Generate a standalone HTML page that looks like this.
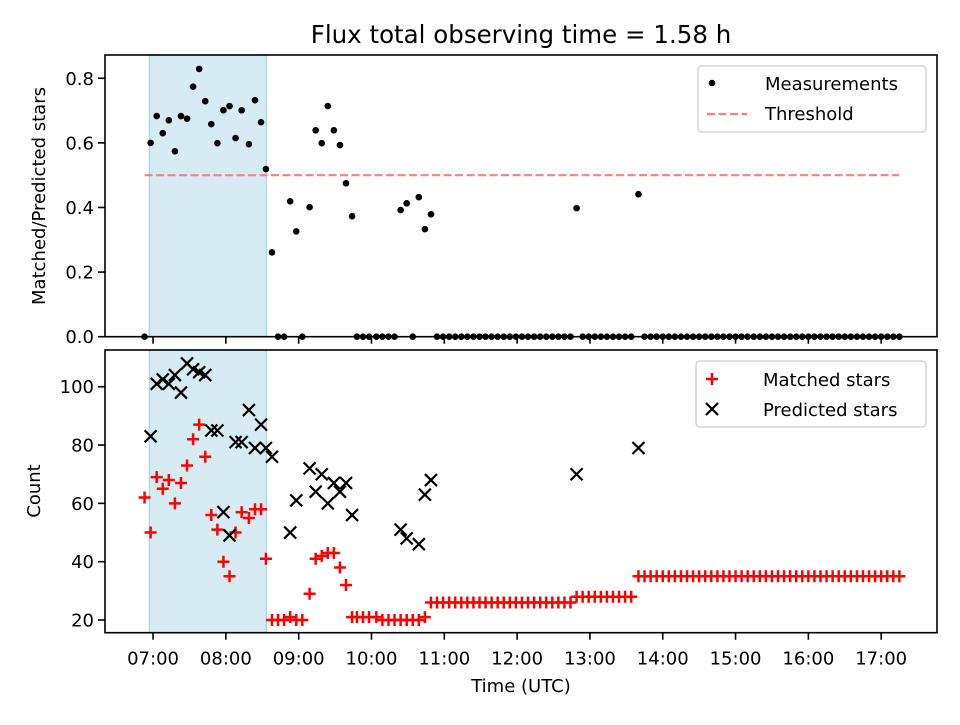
<!DOCTYPE html>
<html><head><meta charset="utf-8"><style>
html,body{margin:0;padding:0;background:#fff;}
svg text{font-family:"DejaVu Sans","Liberation Sans",sans-serif;fill:#000;}
</style></head><body>
<svg id="chart" width="960" height="720" viewBox="0 0 960 720" xmlns="http://www.w3.org/2000/svg">
<rect width="960" height="720" fill="#fff"/>
<text x="521" y="43" font-size="24.5" text-anchor="middle">Flux total observing time = 1.58 h</text>
<g id="topAxes"></g>
<g id="botAxes"></g>
<text transform="translate(45,196) rotate(-90)" font-size="18" text-anchor="middle">Matched/Predicted stars</text>
<text transform="translate(40,491) rotate(-90)" font-size="18" text-anchor="middle">Count</text>
<text x="521" y="692" font-size="18" text-anchor="middle">Time (UTC)</text>
<g id="legends">
<g>
<rect x="698" y="66" width="228" height="66" rx="4" fill="#fff" fill-opacity="0.8" stroke="#d6d6d6" stroke-width="1.5"/>
<circle cx="712" cy="83" r="3.3" fill="#000"/>
<text x="765" y="90" font-size="18">Measurements</text>
<line x1="707" y1="114" x2="747" y2="114" stroke="#ff7f7f" stroke-width="2.2" stroke-dasharray="8,3.5"/>
<text x="765" y="120" font-size="18">Threshold</text>
</g>
<g>
<rect x="696" y="361" width="230" height="66" rx="4" fill="#fff" fill-opacity="0.8" stroke="#d6d6d6" stroke-width="1.5"/>
<path d="M712 373V385M706 379H718" stroke="#f00" stroke-width="2.5"/>
<text x="763" y="386" font-size="18">Matched stars</text>
<path d="M706 403L718 415M706 415L718 403" stroke="#000" stroke-width="2.2"/>
<text x="763" y="416" font-size="18">Predicted stars</text>
</g>
</g>
</svg>
<script>
// times in minutes after 00:00 UTC
const times=[413,418,423,428,433,438,443,448,453,458,463,468,473,478,483,488,493,499,504,509,513,518,523,528,533,538,543,549,554,559,564,569,574,579,584,588,593,598,604,609,614,619,624,629,634,639,644,649,654,659,664,669,674,679,684,689,694,699,704,709,714,719,724,729,734,739,744,749,754,759,764,769,774,779,784,789,794,799,804,809,814,820,825,830,835,840,845,850,855,860,865,870,875,880,885,890,895,900,905,910,915,920,925,930,935,940,945,950,955,960,965,970,975,980,985,990,995,1000,1005,1010,1015,1020,1025,1030,1035];
const ratio=[0,.60,.683,.63,.67,.574,.683,.675,.774,.829,.729,.658,.599,.701,.714,.615,.701,.596,.732,.664,.519,.261,0,0,.419,.326,0,.401,.639,.599,.714,.639,.593,.475,.373,0,0,0,0,0,0,0,.392,.413,0,.432,.333,.379,0,0,0,0,0,0,0,0,0,0,0,0,0,0,0,0,0,0,0,0,0,0,0,.398,0,0,0,0,0,0,0,0,0,.441,0,0,0,0,0,0,0,0,0,0,0,0,0,0,0,0,0,0,0,0,0,0,0,0,0,0,0,0,0,0,0,0,0,0,0,0,0,0,0,0,0,0,0];
const matched=[62,50,69,65,68,60,67,73,82,87,76,56,51,40,35,50,57,55,58,58,41,20,20,20,21,20,20,29,41,42,43,43,38,32,21,21,21,21,21,20,20,20,20,20,20,20,21,26,26,26,26,26,26,26,26,26,26,26,26,26,26,26,26,26,26,26,26,26,26,26,26,28,28,28,28,28,28,28,28,28,28,35,35,35,35,35,35,35,35,35,35,35,35,35,35,35,35,35,35,35,35,35,35,35,35,35,35,35,35,35,35,35,35,35,35,35,35,35,35,35,35,35,35,35,35];
const predTimes=[418,423,428,433,438,443,448,453,458,463,468,473,478,483,488,493,499,504,509,513,518,533,538,549,554,559,564,569,574,579,584,624,629,639,644,649,769,820];
const predicted=[83,101,102.5,101,104,98,108,106,105,104,85,85,57,49,81,81,92,79,87,79,76,50,61,72,64,70,60,67,64,67,56,51,48,46,63,68,70,79];
const threshold=0.5;
const spanStart=417, spanEnd=513.4;
const xTicks=[420,480,540,600,660,720,780,840,900,960,1020];
const xTickLabels=["07:00","08:00","09:00","10:00","11:00","12:00","13:00","14:00","15:00","16:00","17:00"];
const topTicks=[0,0.2,0.4,0.6,0.8];
const topTickLabels=["0.0","0.2","0.4","0.6","0.8"];
const botTicks=[20,40,60,80,100];
const botTickLabels=["20","40","60","80","100"];

const NS="http://www.w3.org/2000/svg";
const L=105,R=937;
const x=t=>L+(t-380.4)/(1066-380.4)*(R-L);
const yTop=v=>336.7-v/0.872*(336.7-55);
const yBot=v=>632.7-(v-15.65)/(112.6-15.65)*(632.7-350);
function mk(tag,attrs,parent){const e=document.createElementNS(NS,tag);for(const k in attrs)e.setAttribute(k,attrs[k]);parent.appendChild(e);return e;}
const topG=document.getElementById('topAxes'),botG=document.getElementById('botAxes');
function axes(g,y0,y1,ticks,labels,yf,showX,nm){
  const s=mk('rect',{x:x(spanStart),y:y0,width:x(spanEnd)-x(spanStart),height:y1-y0,fill:'#add8e6','fill-opacity':0.5,stroke:'#add8e6','stroke-width':1.5},g);
  
  
  ticks.forEach((v,i)=>{const yy=yf(v);
    const tl=mk('line',{x1:L-7,x2:L,y1:yy,y2:yy,stroke:'#000','stroke-width':1.6},g);
    
    
    const tx=mk('text',{x:L-11,y:yy+6.5,'font-size':18,'text-anchor':'end'},g);tx.textContent=labels[i];
    
    
  });
  xTicks.forEach((t,i)=>{const xx=x(t);
    const tl=mk('line',{x1:xx,x2:xx,y1:y1,y2:y1+7,stroke:'#000','stroke-width':1.6},g);
    
    
    if(showX){const tx=mk('text',{x:xx,y:y1+32,'font-size':18,'text-anchor':'middle'},g);tx.textContent=xTickLabels[i];
      
      }
  });
}
axes(topG,55,336.7,topTicks,topTickLabels,yTop,false,'top');
axes(botG,350,632.7,botTicks,botTickLabels,yBot,true,'bottom');
const th=mk('line',{x1:x(times[0]),x2:x(times[times.length-1]),y1:yTop(threshold),y2:yTop(threshold),stroke:'#ff7f7f','stroke-width':2.2,'stroke-dasharray':'8,3.5'},topG);


times.forEach((t,i)=>{
  const c=mk('circle',{cx:x(t),cy:yTop(ratio[i]),r:3.3,fill:'#000'},topG);
  
  
  const px=x(t),py=yBot(matched[i]);
  const p=mk('path',{d:`M${px} ${py-6}V${py+6}M${px-6} ${py}H${px+6}`,stroke:'#f00','stroke-width':2.5},botG);
  
  
});
predTimes.forEach((t,i)=>{
  const px=x(t),py=yBot(predicted[i]);
  const p=mk('path',{d:`M${px-6} ${py-6}L${px+6} ${py+6}M${px-6} ${py+6}L${px+6} ${py-6}`,stroke:'#000','stroke-width':2.2},botG);
  
  
});
[[topG,55,336.7],[botG,350,632.7]].forEach(([g,a,b])=>{
  const f=mk('rect',{x:L,y:a,width:R-L,height:b-a,fill:'none',stroke:'#000','stroke-width':1.6},g);
  
  
});
// keep legends on top
const svg=document.getElementById('chart');
svg.appendChild(document.getElementById('legends'));
</script>
</body></html>
